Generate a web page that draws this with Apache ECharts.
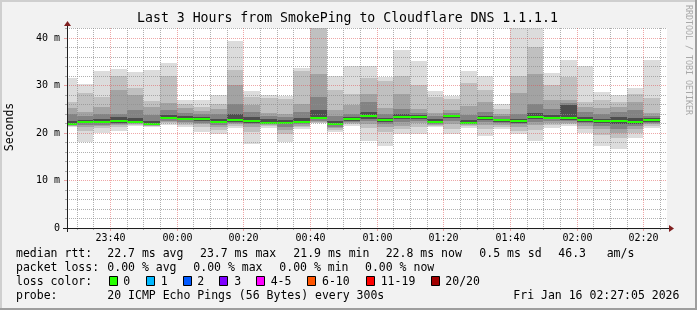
<!DOCTYPE html>
<html><head><meta charset="utf-8">
<script src="https://cdn.jsdelivr.net/npm/echarts@6/dist/echarts.min.js"></script>
<style>html,body{margin:0;padding:0;background:#f2f2f2;}#c{width:697px;height:310px;}</style>
</head><body><div id="c"></div>
<script>
// ---- data (minutes after 23:00; values in ms) ----
const STEP = 5;
const barStart = [25,30,35,40,45,50,55,60,65,70,75,80,85,90,95,100,105,110,115,120,125,130,135,140,145,150,155,160,165,170,175,180,185,190,195,200];
const median = [21.9,22.3,22.3,22.6,22.4,21.9,23.2,23.0,23.0,22.3,22.7,22.6,22.2,22.2,22.4,23.2,21.9,22.9,23.6,22.7,23.4,23.4,22.4,23.5,22.2,23.2,22.7,22.5,23.4,23.2,23.2,22.8,22.5,22.5,22.3,22.7];
const maxV  = [31.6,30.3,33.0,33.5,32.8,33.3,34.7,26.9,26.9,28.1,39.4,28.8,28.1,27.8,33.7,46.0,32.1,34.0,34.1,31.8,37.5,35.2,28.8,27.8,33.1,32.0,26.0,46.0,46.0,32.6,35.4,34.1,28.6,27.9,29.5,35.4];
const hi2   = [26.5,28.5,27.5,31.9,29.5,26.7,31.9,26.2,25.5,26.0,33.3,27.6,27.3,27.2,33.0,43.0,29.0,28.3,31.5,30.9,32.0,30.0,27.6,27.1,30.5,29.0,25.0,31.9,38.2,30.0,31.8,26.5,26.9,26.6,28.3,27.4];
const hi3   = [25.3,24.5,25.5,29.0,28.0,25.5,26.3,25.2,24.6,25.0,30.0,25.9,24.2,23.9,26.2,32.5,24.8,25.9,28.3,25.2,28.3,25.0,24.3,24.8,25.6,26.5,24.0,28.4,32.4,26.9,26.9,25.5,25.2,25.5,26.5,24.3];
const hi4   = [24.0,23.5,24.1,24.1,24.8,23.8,24.9,24.3,23.9,24.0,26.0,24.5,23.6,23.3,24.4,27.5,23.6,24.0,26.5,24.0,25.0,24.3,23.5,24.2,23.8,24.4,23.5,24.0,26.2,25.0,26.4,24.4,24.0,24.5,24.8,23.6];
const hi5   = [22.6,22.8,23.0,23.4,23.1,22.5,23.8,23.5,23.4,23.0,24.0,23.4,22.9,22.8,23.2,24.8,22.6,23.4,24.5,23.2,24.0,23.8,22.9,23.8,22.7,23.6,23.0,23.0,24.3,23.8,25.9,23.4,23.0,23.3,23.2,23.1];
const lo5   = [21.7,22.0,22.0,22.2,22.2,21.7,22.9,22.7,22.6,22.0,22.4,22.2,22.0,21.8,22.1,22.9,21.6,22.6,23.0,22.3,22.9,23.0,22.1,23.1,22.0,22.8,22.4,22.2,23.0,22.9,22.8,22.4,22.1,21.8,21.9,22.4];
const lo4   = [21.6,21.6,21.7,21.9,22.0,21.6,22.6,22.4,22.2,21.6,22.1,21.8,21.8,21.3,21.8,22.6,21.3,22.3,22.5,21.8,22.3,22.5,21.9,22.6,21.8,22.3,22.1,21.8,22.4,22.5,22.5,22.0,21.5,20.8,21.4,22.1];
const lo3   = [21.5,21.2,21.4,21.6,21.8,21.5,22.3,22.0,21.8,21.2,21.8,21.3,21.6,20.7,21.5,22.4,21.0,22.0,21.9,21.2,21.5,22.0,21.7,21.9,21.6,21.7,21.7,21.3,21.7,22.1,22.2,21.5,20.8,20.0,20.8,21.8];
const lo2   = [21.4,20.5,21.0,21.2,21.6,21.4,22.0,21.6,21.2,20.6,21.5,20.3,21.4,19.7,21.2,22.2,20.7,21.8,21.0,20.2,20.8,21.2,21.5,20.9,21.4,20.8,21.3,20.5,20.6,21.6,21.9,20.8,19.5,19.0,20.0,21.5];
const minV  = [21.3,18.1,20.0,20.5,21.5,21.3,21.6,21.2,20.2,19.7,21.1,17.7,21.1,18.0,20.9,22.0,20.2,21.5,18.4,17.3,19.7,19.7,21.3,19.7,21.1,19.3,20.8,19.7,18.4,21.1,21.5,19.9,17.3,16.7,18.9,21.1];
const tickMinutes = [40,60,80,100,120,140,160,180,200];
const tickLabels  = ['23:40','00:00','00:20','00:40','01:00','01:20','01:40','02:00','02:20'];
const yMajor = [10,20,30,40];
const yMinor = [2,4,6,8,12,14,16,18,22,24,26,28,32,34,36,38,42];
const xMin = 27 + 5/60, xMax = 207 + 5/60, yMax = 42.1;

// ---- layout / style ----
const MONO = "'DejaVu Sans Mono', monospace";
const SHADES = ['#dcdcdc','#c0c0c0','#a3a3a3','#838383','#4e4e4e'];
const GRID_C = 'rgba(143,143,143,0.7)', MGRID_C = 'rgba(222,79,79,0.5)';
const X0 = 67, Y0 = 228, W = 600, H = 200;

const xMinorVals = [];
for (let m = 30; m <= 205; m += 5) if (tickMinutes.indexOf(m) < 0) xMinorVals.push(m);

const smokeData = barStart.map((s, i) => [s, s + STEP, maxV[i], hi2[i], hi3[i], hi4[i], hi5[i], median[i], lo5[i], lo4[i], lo3[i], lo2[i], minV[i]]);

function renderSmoke(params, api) {
  const s = api.value(0), e = api.value(1);
  const xa = Math.round(api.coord([s, 0])[0]);
  const xb = Math.round(api.coord([e, 0])[0]);
  const yOf = v => Math.round(api.coord([s, v])[1]);
  const pairs = [[2,12],[3,11],[4,10],[5,9],[6,8]];
  const ch = pairs.map((p, k) => {
    const yt = yOf(api.value(p[0])), yb = yOf(api.value(p[1]));
    return {type:'rect', shape:{x:xa, y:yt, width:xb-xa, height:yb-yt}, style:{fill:SHADES[k]}};
  });
  const ym = yOf(api.value(7));
  ch.push({type:'rect', shape:{x:xa, y:ym-1, width:xb-xa, height:2}, style:{fill:'#26ff00'}});
  return {type:'group', children: ch};
}

function vLine(color, tick) {
  return function(params, api) {
    const v = api.value(0);
    const b = api.coord([v, 0]), t = api.coord([v, yMax]);
    const X = Math.round(b[0]) + 0.5;
    return {type:'group', children:[
      {type:'line', shape:{x1:X, y1:t[1], x2:X, y2:b[1]}, style:{stroke:color, lineWidth:1, lineDash:[1,1]}},
      {type:'line', shape:{x1:X, y1:b[1], x2:X, y2:b[1]+tick}, style:{stroke:color, lineWidth:1}}
    ]};
  };
}
function hLine(color, tick) {
  return function(params, api) {
    const v = api.value(1);
    const l = api.coord([xMin, v]), r = api.coord([xMax, v]);
    const Y = Math.round(l[1]) + 0.5;
    return {type:'group', children:[
      {type:'line', shape:{x1:l[0], y1:Y, x2:r[0], y2:Y}, style:{stroke:color, lineWidth:1, lineDash:[1,1]}},
      {type:'line', shape:{x1:l[0]-tick, y1:Y, x2:l[0], y2:Y}, style:{stroke:color, lineWidth:1}}
    ]};
  };
}
function xLabel(params, api) {
  const p = api.coord([api.value(0), 0]);
  return {type:'text', x: Math.round(p[0]) + 0.5, y: p[1] + 10,
    style:{text: tickLabels[params.dataIndex], font: '10px ' + MONO, fill:'#000', align:'center', verticalAlign:'middle'}};
}

const chart = echarts.init(document.getElementById('c'), null, {renderer:'canvas'});

const gfx = [];
function txt(x, y, s, size, extra) {
  gfx.push({type:'text', x, y, silent:true,
    style: Object.assign({text:s, font: size + 'px ' + MONO, fill:'#000', verticalAlign:'middle'}, extra || {})});
}
// frame
gfx.push({type:'rect', shape:{x:0,y:0,width:697,height:2}, style:{fill:'#cfcfcf'}});
gfx.push({type:'rect', shape:{x:0,y:0,width:2,height:310}, style:{fill:'#cfcfcf'}});
gfx.push({type:'rect', shape:{x:0,y:308,width:697,height:2}, style:{fill:'#9e9e9e'}});
gfx.push({type:'rect', shape:{x:695,y:0,width:2,height:310}, style:{fill:'#9e9e9e'}});
// axes
gfx.push({type:'line', z:100, shape:{x1:X0-4, y1:Y0+0.5, x2:X0+W+4, y2:Y0+0.5}, style:{stroke:'#1f1f1f', lineWidth:1}});
gfx.push({type:'line', z:100, shape:{x1:X0+0.5, y1:Y0+4, x2:X0+0.5, y2:Y0-H-4}, style:{stroke:'#1f1f1f', lineWidth:1}});
gfx.push({type:'polygon', z:100, shape:{points:[[X0+W+2,Y0-3],[X0+W+2,Y0+4],[X0+W+7,Y0+0.5]]}, style:{fill:'#802020'}});
gfx.push({type:'polygon', z:100, shape:{points:[[X0-3,Y0-H-2],[X0+4,Y0-H-2],[X0+0.5,Y0-H-7]]}, style:{fill:'#802020'}});
// title & side texts
txt(347.5, 19, 'Last 3 Hours from SmokePing to Cloudflare DNS 1.1.1.1', 13.2, {align:'center'});
gfx.push({type:'text', x:10.5, y:127, rotation:Math.PI/2, silent:true,
  style:{text:'Seconds', font:'11.5px ' + MONO, fill:'#000', align:'center', verticalAlign:'middle'}});
gfx.push({type:'text', x:688, y:60, rotation:-Math.PI/2, silent:true,
  style:{text:'RRDTOOL / TOBI OETIKER', font:'8.3px ' + MONO, fill:'#a8a8a8', align:'center', verticalAlign:'middle'}});
// legend
const L = 11.5;
const row1 = 254.5, row2 = 268.5, row3 = 282.5, row4 = 296.5;
[[16,'median rtt:'],[107.3,'22.7 ms avg'],[200,'23.7 ms max'],[293.3,'21.9 ms min'],[385.7,'22.8 ms now'],[479.3,'0.5 ms sd'],[558.3,'46.3'],[606.7,'am/s']]
  .forEach(a => txt(a[0], row1, a[1], L));
[[16,'packet loss:'],[107.3,'0.00 % avg'],[193.3,'0.00 % max'],[279.3,'0.00 % min'],[365,'0.00 % now']]
  .forEach(a => txt(a[0], row2, a[1], L));
txt(16, row3, 'loss color:', L);
[[108.5,'#26ff00',123.3,'0'],[145.7,'#00b8ff',160.7,'1'],[182.7,'#0059ff',197.3,'2'],[219.3,'#7e00ff',234.3,'3'],
 [256,'#ff00ff',270.7,'4-5'],[307.3,'#ff5500',322,'6-10'],[365.7,'#ff0000',380.7,'11-19'],[430.7,'#a10000',445.3,'20/20']]
  .forEach(a => {
    gfx.push({type:'rect', shape:{x:Math.round(a[0])+0.5, y:276.5, width:8, height:9}, style:{fill:a[1], stroke:'#000', lineWidth:1}});
    txt(a[2], row3, a[3], L);
  });
txt(16, row4, 'probe:', L);
txt(107.3, row4, '20 ICMP Echo Pings (56 Bytes) every 300s', L);
txt(513.3, row4, 'Fri Jan 16 02:27:05 2026', L);

chart.setOption({
  animation: false,
  backgroundColor: '#f2f2f2',
  grid: {left:X0, top:Y0-H, width:W, height:H, show:true, backgroundColor:'#ffffff', borderWidth:0},
  xAxis: {type:'value', min:xMin, max:xMax, axisLine:{show:false}, axisTick:{show:false}, axisLabel:{show:false}, splitLine:{show:false}},
  yAxis: {type:'value', min:0, max:yMax, interval:10,
    axisLine:{show:false}, axisTick:{show:false}, splitLine:{show:false},
    axisLabel:{margin:7, color:'#000', fontFamily:MONO, fontSize:10, showMaxLabel:false,
      formatter: v => (v === 0 ? '0' : (Math.abs(v % 10) < 1e-9 ? v + ' m' : ''))}},
  graphic: gfx,
  series: [
    {type:'custom', name:'smoke', clip:true, z:2, renderItem:renderSmoke, data:smokeData, silent:true},
    {type:'custom', name:'xminor', clip:false, z:5, renderItem:vLine(GRID_C, 2), data:xMinorVals.map(v => [v, 0]), silent:true},
    {type:'custom', name:'xmajor', clip:false, z:6, renderItem:vLine(MGRID_C, 3), data:tickMinutes.map(v => [v, 0]), silent:true},
    {type:'custom', name:'yminor', clip:false, z:5, renderItem:hLine(GRID_C, 2), data:yMinor.map(v => [xMin, v]), silent:true},
    {type:'custom', name:'ymajor', clip:false, z:6, renderItem:hLine(MGRID_C, 3), data:yMajor.map(v => [xMin, v]), silent:true},
    {type:'custom', name:'xlabels', clip:false, z:6, renderItem:xLabel, data:tickMinutes.map(v => [v, 0]), silent:true}
  ]
});
</script></body></html>
